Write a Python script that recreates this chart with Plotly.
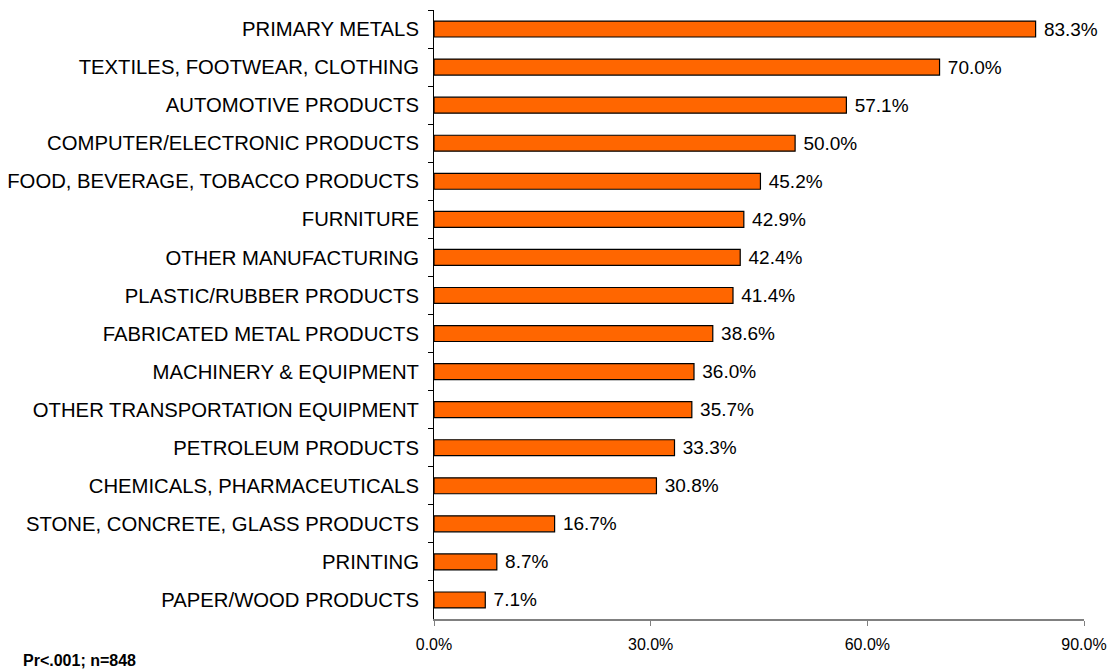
import plotly.graph_objects as go

# Share of firms by industry (percent), top to bottom as displayed
industries = [
    "PRIMARY METALS",
    "TEXTILES, FOOTWEAR, CLOTHING",
    "AUTOMOTIVE PRODUCTS",
    "COMPUTER/ELECTRONIC PRODUCTS",
    "FOOD, BEVERAGE, TOBACCO PRODUCTS",
    "FURNITURE",
    "OTHER MANUFACTURING",
    "PLASTIC/RUBBER PRODUCTS",
    "FABRICATED METAL PRODUCTS",
    "MACHINERY & EQUIPMENT",
    "OTHER TRANSPORTATION EQUIPMENT",
    "PETROLEUM PRODUCTS",
    "CHEMICALS, PHARMACEUTICALS",
    "STONE, CONCRETE, GLASS PRODUCTS",
    "PRINTING",
    "PAPER/WOOD PRODUCTS",
]
shares = [83.3, 70.0, 57.1, 50.0, 45.2, 42.9, 42.4, 41.4, 38.6, 36.0, 35.7, 33.3, 30.8, 16.7, 8.7, 7.1]

x_ticks = [0, 30, 60, 90]
x_tick_labels = ["0.0%", "30.0%", "60.0%", "90.0%"]
footnote = "Pr<.001; n=848"

FONT = "Arial, 'Liberation Sans', sans-serif"

fig = go.Figure(
    go.Bar(
        x=shares,
        y=industries,
        orientation="h",
        marker=dict(color="#FF6600", line=dict(color="#000000", width=1.2)),
        texttemplate=" %{x:.1f}%",
        textposition="outside",
        textfont=dict(family=FONT, size=19, color="#000000"),
        constraintext="none",
        cliponaxis=False,
        hoverinfo="skip",
    )
)

fig.update_layout(
    width=1110,
    height=671,
    margin=dict(l=434, r=26, t=10, b=52),
    paper_bgcolor="white",
    plot_bgcolor="white",
    bargap=0.58,
    showlegend=False,
    font=dict(family=FONT, color="#000000"),
)

fig.update_xaxes(
    range=[0, 90],
    tickvals=x_ticks,
    ticktext=x_tick_labels,
    automargin=False,
    showgrid=False,
    zeroline=False,
    showline=True,
    linecolor="#808080",
    linewidth=2,
    ticks="outside",
    ticklen=5,
    tickcolor="#808080",
    tickwidth=1,
    ticklabelstandoff=5,
    tickfont=dict(family=FONT, size=16, color="#000000"),
)

fig.update_yaxes(
    categoryorder="array",
    categoryarray=industries,
    autorange="reversed",
    automargin=False,
    showgrid=False,
    zeroline=False,
    showline=True,
    linecolor="#000000",
    linewidth=1,
    ticks="outside",
    tickson="boundaries",
    ticklen=5,
    tickcolor="#000000",
    ticklabelstandoff=10,
    tickfont=dict(family=FONT, size=20.3, color="#000000"),
)

fig.add_annotation(
    text="<b>" + footnote + "</b>",
    xref="paper",
    yref="paper",
    x=(21 - 434) / 650,
    y=(619 - 660) / 609,
    xanchor="left",
    yanchor="middle",
    showarrow=False,
    font=dict(family=FONT, size=16, color="#000000"),
)

fig.write_html("out.html")
